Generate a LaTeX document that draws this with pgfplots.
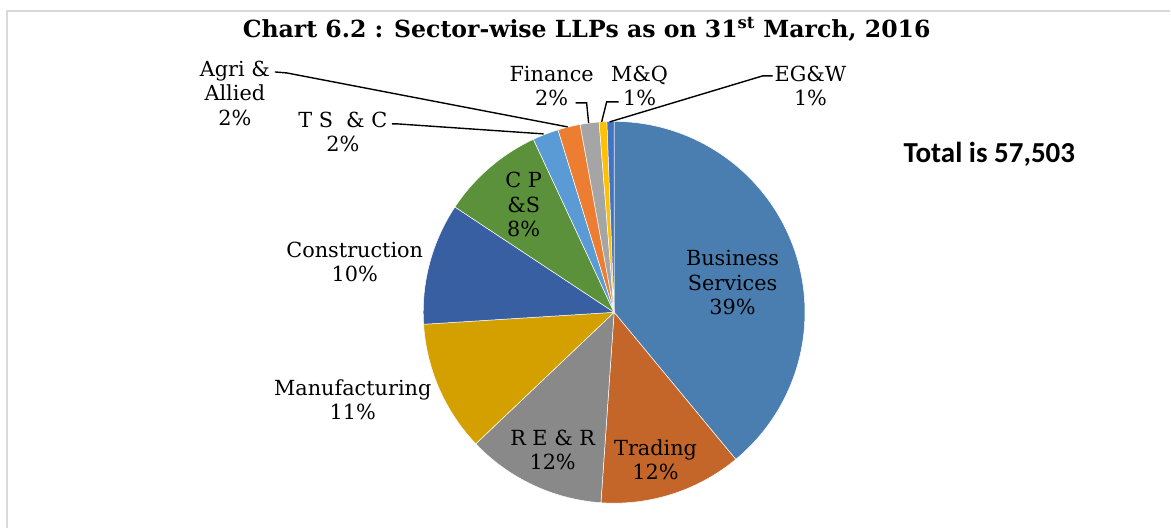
\documentclass[border=0pt]{standalone}
\usepackage{pgfplots}
\pgfplotsset{compat=1.18}
\usepackage{pgfplotstable}
\usepackage{graphicx}
\usepackage{fontspec}
\setmainfont{DejaVu Serif}
\newfontfamily\calfont{Carlito}

\definecolor{cBS}{HTML}{4A7EB0}
\definecolor{cTR}{HTML}{C4662A}
\definecolor{cRE}{HTML}{898989}
\definecolor{cMF}{HTML}{D4A000}
\definecolor{cCO}{HTML}{375FA2}
\definecolor{cCP}{HTML}{5B913A}
\definecolor{cTS}{HTML}{5B9BD5}
\definecolor{cAG}{HTML}{ED7D31}
\definecolor{cFI}{HTML}{A5A5A5}
\definecolor{cMQ}{HTML}{FFC000}
\definecolor{cEG}{HTML}{4472C4}
\definecolor{frame}{HTML}{D9D9D9}

% sector shares (percent), clockwise from 12 o'clock
\pgfplotstableread{
sector value col
BS  39.00 cBS
TR  12.10 cTR
RE  11.80 cRE
MF  11.10 cMF
CO  10.30 cCO
CP   8.75 cCP
TS   2.20 cTS
AG   1.90 cAG
FI   1.60 cFI
MQ   0.65 cMQ
EG   0.60 cEG
}\pietable

\newcommand\lab{\fontsize{20.8}{24.5}\selectfont}

\begin{document}
\begin{tikzpicture}
\begin{axis}[scale only axis, width=1171pt, height=528pt,
  xmin=0, xmax=1171, ymin=0, ymax=528, hide axis, clip=false]
\path (axis cs:0,0) (axis cs:1171,528);
% frame
\draw[frame, line width=1.5pt] (axis cs:7,0) -- (axis cs:7,517) -- (axis cs:1171,517);

\def\cum{0}
\pgfplotsforeachungrouped \i in {0,...,10}{%
  \pgfplotstablegetelem{\i}{value}\of\pietable \let\v\pgfplotsretval
  \pgfplotstablegetelem{\i}{col}\of\pietable \let\c\pgfplotsretval
  \pgfmathsetmacro\a{90-3.6*\cum}%
  \pgfmathsetmacro\b{90-3.6*(\cum+\v)}%
  \edef\temp{\noexpand\addplot[fill=\c, draw=white, line width=0.5pt, domain=\b:\a, samples=80]
    ({614.5+191*cos(x)},{215.5+191*sin(x)}) -- (axis cs:614.5,215.5) -- cycle;}%
  \temp
  \pgfmathsetmacro\cum{\cum+\v}%
}

% leader lines
\begin{scope}[line width=1.4pt]
\draw (axis cs:275,456) -- (axis cs:287,455) -- (axis cs:568,401);
\draw (axis cs:392,404) -- (axis cs:398,404) -- (axis cs:544,394);
\draw (axis cs:576,425) -- (axis cs:587,425) -- (axis cs:589,405);
\draw (axis cs:619,426) -- (axis cs:607,426) -- (axis cs:602,406);
\draw (axis cs:773,452) -- (axis cs:763,452) -- (axis cs:610,406);
\end{scope}

% labels
\begin{scope}[every node/.style={align=center, inner sep=0pt, font=\lab}]
\node at (axis cs:733,245) {Business\\Services\\39\%};
\node at (axis cs:656,68) {Trading\\12\%};
\node at (axis cs:553,78) {R E \& R\\12\%};
\node at (axis cs:353,128) {Manufacturing\\11\%};
\node at (axis cs:355,266) {Construction\\10\%};
\node at (axis cs:524,323) {C P\\\&S\\8\%};
\node at (axis cs:343,396) {T S \ \& C\\2\%};
\node at (axis cs:235,434.5) {Agri \&\\Allied\\2\%};
\node at (axis cs:552,442) {Finance\\2\%};
\node at (axis cs:640,442) {M\&Q\\1\%};
\node at (axis cs:811,442) {EG\&W\\1\%};
\end{scope}

\node[anchor=base, inner sep=0pt]
  at (axis cs:587,490.5) {\resizebox{688pt}{!}{\bfseries\fontsize{20.5}{24}\selectfont Chart 6.2 : Sector-wise LLPs as on 31\textsuperscript{st} March, 2016}};
\node[anchor=base, inner sep=0pt, font=\calfont\bfseries\fontsize{29}{34}\selectfont]
  at (axis cs:990,365.7) {Total is 57,503};
\end{axis}
\end{tikzpicture}
\end{document}
